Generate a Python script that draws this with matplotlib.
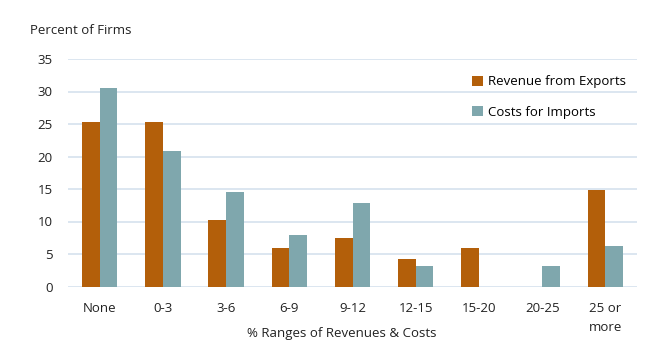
import numpy as np
import matplotlib.pyplot as plt

plt.rcParams['font.family'] = ['Open Sans', 'DejaVu Sans']

categories = ['None', '0-3', '3-6', '6-9', '9-12', '12-15', '15-20', '20-25', '25 or\nmore']
exports = [25.3, 25.3, 10.3, 5.9, 7.4, 4.3, 5.9, 0, 14.8]
imports = [30.5, 20.8, 14.5, 8.0, 12.8, 3.2, 0, 3.2, 6.3]

c_exp = '#B35F0A'
c_imp = '#7FA7AD'

fig = plt.figure(figsize=(6.55, 3.56), dpi=100)
ax = fig.add_axes([68/655, 1 - 286.5/356, 569/655, 227.5/356])

x = np.arange(len(categories))
w = 0.28
ax.bar(x - w/2, exports, w, color=c_exp, label='Revenue from Exports', zorder=3)
ax.bar(x + w/2, imports, w, color=c_imp, label='Costs for Imports', zorder=3)

ax.set_xlim(-0.5, len(categories) - 0.5)
ax.set_ylim(0, 35)
ax.set_yticks(range(0, 36, 5))
ax.yaxis.grid(True, color='#D6E2EE', linewidth=1.2, zorder=0)
for s in ax.spines.values():
    s.set_visible(False)
ax.tick_params(length=0, labelsize=9.5, colors='#222222')
ax.tick_params(axis='y', pad=11)
ax.tick_params(axis='x', pad=11)
ax.set_xticks(x)
ax.set_xticklabels(categories, va='top', linespacing=1.6)

fig.text(342/655, 1 - 334/356, '% Ranges of Revenues & Costs', fontsize=9.5,
         color='#222222', ha='center', va='center')
fig.text(30/655, 1 - 30/356, 'Percent of Firms', fontsize=9.5, color='#222222', va='center')

ax.legend(loc='upper left', bbox_to_anchor=(0.69, 0.98), frameon=False,
          fontsize=9.5, handlelength=0.8, handleheight=0.8, handletextpad=0.4,
          labelspacing=1.3)

fig.savefig('out.png', dpi=100)
